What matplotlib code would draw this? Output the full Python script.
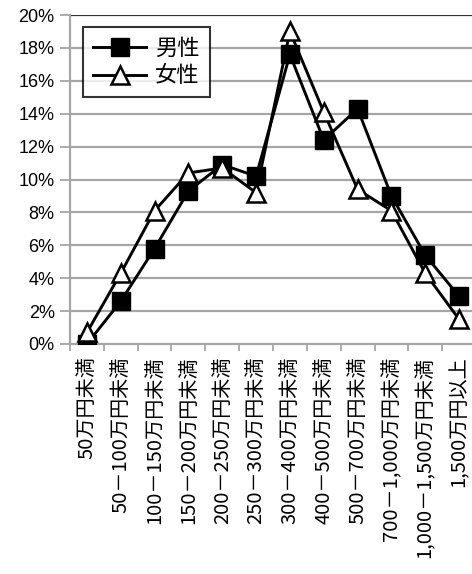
import matplotlib
matplotlib.use("Agg")
import matplotlib.pyplot as plt
import numpy as np

plt.rcParams['font.family'] = ['Noto Sans CJK JP', 'DejaVu Sans']

categories = ["50万円未満", "50－100万円未満", "100－150万円未満", "150－200万円未満",
              "200－250万円未満", "250－300万円未満", "300－400万円未満", "400－500万円未満",
              "500－700万円未満", "700－1,000万円未満", "1,000－1,500万円未満", "1,500万円以上"]
male = [0.0, 2.6, 5.8, 9.3, 10.9, 10.2, 17.6, 12.4, 14.3, 9.0, 5.4, 2.9]
female = [0.7, 4.3, 8.1, 10.4, 10.7, 9.2, 19.0, 14.1, 9.4, 8.1, 4.3, 1.5]
yticks = [0, 2, 4, 6, 8, 10, 12, 14, 16, 18, 20]

W, H = 472, 574
fig = plt.figure(figsize=(W / 100, H / 100), dpi=100)
ax = fig.add_axes([70 / W, (H - 344) / H, 406 / W, (344 - 15) / H])

x = np.arange(len(categories))
ax.plot(x, male, color='black', lw=2.1, marker='s', ms=13, mfc='black',
        mec='black', mew=1.0, label='男性', zorder=3)
ax.plot(x, female, color='black', lw=2.1, marker='^', ms=12.5, mfc='white',
        mec='black', mew=1.8, label='女性', zorder=4)

ax.set_xlim(-0.5, len(categories) - 0.5)
ax.set_ylim(0, 20)
ax.set_yticks(yticks)
ax.set_yticklabels([f"{v}%" for v in yticks], fontsize=13,
                   family=['Liberation Sans', 'DejaVu Sans'])
for v in yticks[1:]:
    ax.axhline(v, color='#333333' if v == 20 else '#a6a6a6', lw=1.6, zorder=1)

ax.set_xticks(x)
ax.set_xticklabels(categories, rotation=90, fontsize=14.5, va='top', ha='center')
ax.tick_params(axis='x', which='major', length=0, pad=9)
ax.set_xticks(np.arange(-0.5, len(categories), 1.0), minor=True)
ax.tick_params(axis='x', which='minor', length=5, color='#a6a6a6', width=1.3)
ax.tick_params(axis='y', length=7, color='#a6a6a6', width=1.3, pad=4)

for s in ['top', 'right']:
    ax.spines[s].set_visible(False)
for s in ['left', 'bottom']:
    ax.spines[s].set_color('#a6a6a6')
    ax.spines[s].set_linewidth(1.6)

leg = ax.legend(loc='upper left', bbox_to_anchor=(13 / 406, 1 - 12 / 329),
                fontsize=16, frameon=True, fancybox=False, edgecolor='black',
                handlelength=2.4, borderpad=0.45, labelspacing=0.2, handletextpad=0.4,
                borderaxespad=0)
leg.get_frame().set_linewidth(1.5)

fig.savefig("out.png", dpi=100)
